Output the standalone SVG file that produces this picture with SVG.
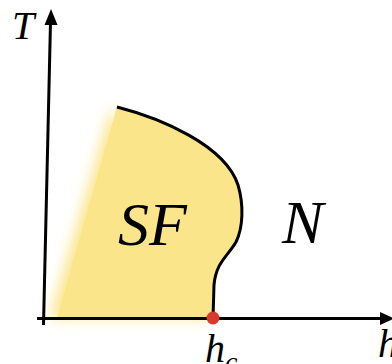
<svg xmlns="http://www.w3.org/2000/svg" width="392" height="364" viewBox="0 0 392 364">
  <style>
    .lbl { font-family: "Liberation Serif", "Times New Roman", serif; font-style: italic; fill: #000; }
    .axis { stroke: #000; stroke-width: 3; fill: none; }
    .arrow { fill: #000; }
  </style>
  <defs>
    <filter id="blur" x="-30%" y="-10%" width="160%" height="120%">
      <feGaussianBlur stdDeviation="7"/>
    </filter>
  </defs>
  <rect width="392" height="364" fill="#fff"/>
  <g id="sf-region">
    <path d="M112,107 L50,318 L213,318 Z" fill="#fbe58a" filter="url(#blur)"/>
    <path d="M117,107 C160,118 225,145 238,185 C244,205 243,228 236,242 C228,256 216,262 214,285 L213,318 L57,318 Z" fill="#fbe58a"/>
    <path d="M117,107 C160,118 225,145 238,185 C244,205 243,228 236,242 C228,256 216,262 214,285 L213,318" fill="none" stroke="#000" stroke-width="3"/>
  </g>
  <g id="connectors">
    <line class="axis" x1="50.5" y1="22" x2="43.5" y2="325"/>
    <polygon class="arrow" points="51,9 57.5,25 44.5,25"/>
    <line class="axis" x1="37" y1="318.5" x2="383" y2="318.5"/>
    <polygon class="arrow" points="394,318.5 380,312 380,325"/>
  </g>
  <g id="hc-point">
    <circle cx="213" cy="318" r="6.5" fill="#d93a2b"/>
  </g>
  <g id="labels">
    <text class="lbl" x="12" y="39" font-size="40">T</text>
    <text class="lbl" x="118" y="245" font-size="62">SF</text>
    <text class="lbl" x="282" y="243" font-size="62">N</text>
    <text class="lbl" x="205" y="362" font-size="40">h<tspan font-size="28" dy="9">c</tspan></text>
    <text class="lbl" x="378" y="357" font-size="40">h</text>
  </g>
</svg>
